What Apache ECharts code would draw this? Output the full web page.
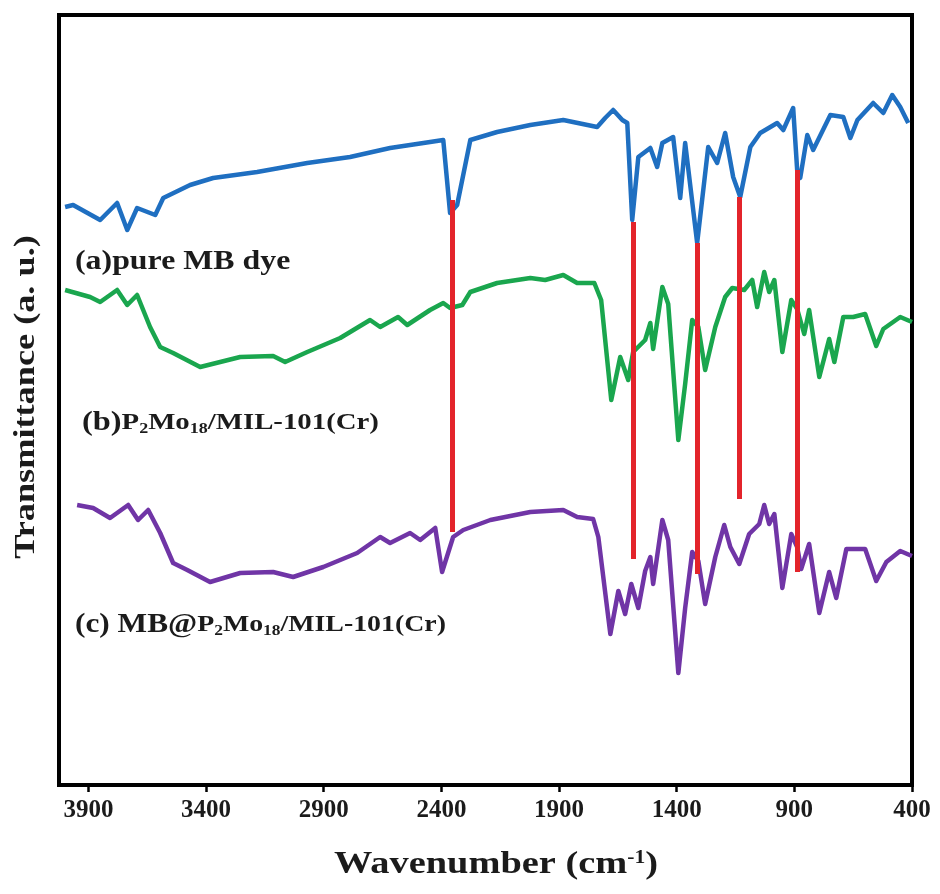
<!DOCTYPE html>
<html>
<head>
<meta charset="utf-8">
<script src="https://cdn.jsdelivr.net/npm/echarts@6/dist/echarts.min.js"></script>
<style>
  html, body { margin: 0; padding: 0; background: #fff; }
  #chartFtir { width: 940px; height: 894px; }
</style>
</head>
<body>
<div id="chartFtir"></div>
<script>
  // wavenumber ticks (cm-1)
  const tickValues = [3900, 3400, 2900, 2400, 1900, 1400, 900, 400]

  // (a) pure MB dye
  const pureMBWave = [3999, 3965, 3850, 3778, 3735, 3693, 3616, 3582, 3468, 3370, 3183, 2970, 2788, 2618, 2448, 2392, 2363, 2333, 2277, 2163, 2022, 1882, 1738, 1704, 1670, 1631, 1610, 1589, 1563, 1512, 1483, 1461, 1415, 1385, 1364, 1313, 1266, 1228, 1194, 1160, 1130, 1087, 1045, 973, 947, 905, 888, 875, 845, 820, 747, 692, 662, 632, 565, 522, 484, 450, 416]
  const pureMBValue = [578, 580, 565, 582, 555, 577, 570, 587, 600, 607, 613, 622, 628, 637, 643, 645, 572, 580, 645, 653, 660, 665, 658, 667, 675, 665, 662, 565, 628, 637, 618, 642, 648, 587, 642, 542, 638, 622, 652, 608, 588, 638, 652, 662, 655, 677, 615, 607, 650, 635, 670, 668, 647, 665, 682, 672, 690, 678, 662]

  // (b) P2Mo18/MIL-101(Cr)
  const compositeWave = [3999, 3893, 3850, 3778, 3735, 3693, 3638, 3595, 3540, 3425, 3255, 3115, 3064, 2970, 2830, 2703, 2660, 2584, 2545, 2448, 2392, 2363, 2311, 2277, 2163, 2022, 1959, 1882, 1823, 1750, 1721, 1678, 1640, 1606, 1585, 1534, 1512, 1500, 1461, 1436, 1393, 1364, 1334, 1308, 1279, 1236, 1194, 1164, 1113, 1079, 1058, 1028, 1007, 985, 951, 913, 888, 858, 837, 794, 752, 730, 692, 650, 599, 552, 522, 450, 400]
  const compositeValue = [495, 488, 483, 495, 480, 490, 458, 438, 432, 418, 428, 429, 423, 433, 447, 465, 458, 468, 460, 475, 482, 477, 480, 493, 502, 507, 505, 510, 502, 502, 485, 385, 428, 405, 433, 445, 462, 436, 498, 481, 345, 401, 465, 458, 415, 458, 488, 497, 495, 505, 478, 513, 493, 505, 433, 485, 476, 451, 475, 408, 446, 423, 468, 468, 471, 439, 456, 468, 463]

  // (c) MB@P2Mo18/MIL-101(Cr)
  const loadedWave = [3948, 3880, 3808, 3731, 3689, 3646, 3595, 3540, 3480, 3383, 3255, 3115, 3030, 2902, 2758, 2660, 2618, 2533, 2490, 2426, 2397, 2350, 2307, 2192, 2022, 1882, 1823, 1755, 1733, 1682, 1648, 1619, 1593, 1563, 1534, 1512, 1500, 1461, 1436, 1393, 1364, 1334, 1308, 1279, 1236, 1198, 1172, 1134, 1092, 1049, 1028, 1007, 985, 951, 913, 888, 871, 837, 794, 752, 722, 679, 599, 552, 509, 450, 400]
  const loadedValue = [280, 277, 267, 280, 265, 275, 252, 222, 215, 203, 212, 213, 208, 218, 232, 248, 242, 252, 245, 257, 213, 248, 255, 265, 273, 275, 268, 266, 248, 151, 194, 171, 201, 177, 214, 228, 201, 265, 245, 112, 177, 233, 224, 181, 228, 260, 238, 221, 251, 261, 280, 261, 271, 197, 251, 238, 216, 241, 172, 213, 187, 236, 236, 204, 223, 234, 229]

  // red guide lines between matching bands
  const bandWave = [2354, 1585, 1313, 1134, 888]
  const bandTop = [585, 563, 542, 588, 615]
  const bandBottom = [253, 226, 211, 286, 213]

  const zip = (xs, ys) => xs.map((x, i) => [x, ys[i]])
  const serif = '"Liberation Serif", "DejaVu Serif", serif'
  const ink = '#1b1b1b'
  const formulaRich = {
    b: { font: 'bold 27px ' + serif, fill: ink },
    n: { font: 'bold 24px ' + serif, fill: ink },
    u: { font: 'bold 15px ' + serif, fill: ink, verticalAlign: 'bottom', padding: [8, 0, 0, 0] }
  }

  const myChart = echarts.init(document.getElementById('chartFtir'))
  const option = {
    backgroundColor: '#fff',
    animation: false,
    grid: {
      left: 59,
      right: 28,
      top: 15,
      bottom: 109,
      show: true,
      borderColor: '#000',
      borderWidth: 4
    },
    xAxis: {
      type: 'value',
      inverse: true,
      min: 400,
      max: 4025,
      axisLine: { show: false },
      splitLine: { show: false },
      axisTick: {
        show: true,
        customValues: tickValues,
        length: 7,
        lineStyle: { color: '#000', width: 2.5 }
      },
      axisLabel: {
        customValues: tickValues,
        formatter: v => String(v),
        margin: 13,
        color: ink,
        fontFamily: serif,
        fontWeight: 'bold',
        fontSize: 25
      }
    },
    yAxis: {
      type: 'value',
      min: 0,
      max: 770,
      axisLine: { show: false },
      axisTick: { show: false },
      axisLabel: { show: false },
      splitLine: { show: false }
    },
    graphic: [
      {
        // y axis title
        type: 'text',
        x: 27,
        y: 397,
        rotation: Math.PI / 2,
        scaleX: 1.25,
        style: {
          text: 'Transmittance (a. u.)',
          font: 'bold 29px ' + serif,
          fill: ink,
          align: 'center',
          verticalAlign: 'middle'
        }
      },
      {
        // x axis title
        type: 'text',
        x: 496,
        y: 865,
        scaleX: 1.2,
        style: {
          text: '{t|Wavenumber (cm}{s|-1}{t|)}',
          align: 'center',
          verticalAlign: 'middle',
          rich: {
            t: { font: 'bold 32px ' + serif, fill: ink },
            s: { font: 'bold 18px ' + serif, fill: ink, verticalAlign: 'top', padding: [0, 0, 14, 0] }
          }
        }
      },
      {
        type: 'text',
        x: 75,
        y: 262,
        scaleX: 1.18,
        style: {
          text: '(a)pure MB dye',
          font: 'bold 27px ' + serif,
          fill: ink,
          verticalAlign: 'middle'
        }
      },
      {
        type: 'text',
        x: 82,
        y: 423,
        scaleX: 1.2,
        style: {
          text: '{b|(b)}{n|P}{u|2}{n|Mo}{u|18}{n|/MIL-101(Cr)}',
          verticalAlign: 'middle',
          rich: formulaRich
        }
      },
      {
        type: 'text',
        x: 75,
        y: 625,
        scaleX: 1.16,
        style: {
          text: '{b|(c) MB@}{n|P}{u|2}{n|Mo}{u|18}{n|/MIL-101(Cr)}',
          verticalAlign: 'middle',
          rich: formulaRich
        }
      }
    ],
    series: [
      {
        name: '(a)',
        type: 'line',
        data: zip(pureMBWave, pureMBValue),
        showSymbol: false,
        lineStyle: { color: '#1f6fc1', width: 4.5, join: 'round' }
      },
      {
        name: '(b)',
        type: 'line',
        data: zip(compositeWave, compositeValue),
        showSymbol: false,
        lineStyle: { color: '#1aa64e', width: 4.5, join: 'round' }
      },
      {
        name: '(c)',
        type: 'line',
        data: zip(loadedWave, loadedValue),
        showSymbol: false,
        lineStyle: { color: '#7035a6', width: 4.5, join: 'round' }
      },
      {
        name: 'bands',
        type: 'line',
        data: [],
        markLine: {
          silent: true,
          symbol: ['none', 'none'],
          label: { show: false },
          lineStyle: { color: '#e3242b', width: 5, type: 'solid' },
          data: bandWave.map((w, i) => [
            { coord: [w, bandTop[i]] },
            { coord: [w, bandBottom[i]] }
          ])
        }
      }
    ]
  }
  myChart.setOption(option)
</script>
</body>
</html>
